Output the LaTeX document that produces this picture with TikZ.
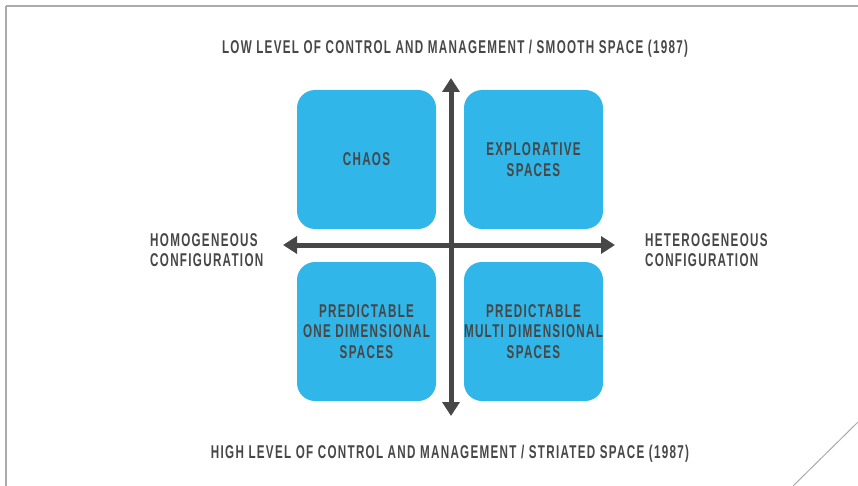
\documentclass[tikz,border=0pt]{standalone}
\usepackage{fontspec}
\usetikzlibrary{arrows.meta}
\newfontfamily\quadfont[FakeStretch=0.63,LetterSpace=7]{Liberation Sans}
\definecolor{quadblue}{HTML}{30B6E9}
\definecolor{quadtext}{HTML}{474747}
\definecolor{framegrey}{HTML}{ABABAB}
\begin{document}
\begin{tikzpicture}[x=1pt, y=-1pt,
    quadbox/.style={fill=quadblue, rounded corners=18pt, minimum width=139pt, minimum height=139pt, inner sep=0pt,
      align=center, text=quadtext, font=\quadfont\bfseries\fontsize{18.5}{20.5}\selectfont},
    axislabel/.style={text=quadtext, inner sep=0pt, font=\quadfont\bfseries\fontsize{18.5}{20.5}\selectfont},
    axis/.style={draw=quadtext, line width=5pt, {Triangle[width=17pt,length=14pt]}-{Triangle[width=17pt,length=14pt]}}]
    \useasboundingbox (0, 0) rectangle (858, 486);
    % frame of the slide
    \draw[framegrey, line width=1.5pt](6, 6) -- (858, 6);
    \draw[framegrey, line width=1.5pt](6, 6) -- (6, 486);
    \draw[framegrey, line width=1pt](793, 486) -- (858, 422);

    \node[quadbox] (chaos) at(366.5, 159.5){CHAOS};
    \node[quadbox] (explore) at(533.5, 159.5){EXPLORATIVE\\SPACES};
    \node[quadbox] (onedim) at(366.5, 331.5){PREDICTABLE\\ONE DIMENSIONAL\\SPACES};
    \node[quadbox] (multidim) at(533.5, 331.5){PREDICTABLE\\MULTI DIMENSIONAL\\SPACES};

    \coordinate (up) at(451, 78);
    \coordinate (down) at(451, 416);
    \coordinate (left) at(283, 245);
    \coordinate (right) at(615, 245);
    \draw[axis](down) -- (up);
    \draw[axis](left) -- (right);

    \node[axislabel] (smooth) at(455, 48.5){LOW LEVEL OF CONTROL AND MANAGEMENT / SMOOTH SPACE (1987)};
    \node[axislabel] (striated) at(450, 453.5){HIGH LEVEL OF CONTROL AND MANAGEMENT / STRIATED SPACE (1987)};
    \node[axislabel, anchor=west, align=left] (homog) at(150, 250){HOMOGENEOUS\\CONFIGURATION};
    \node[axislabel, anchor=west, align=left] (heterog) at(645, 250){HETEROGENEOUS\\CONFIGURATION};
\end{tikzpicture}
\end{document}
